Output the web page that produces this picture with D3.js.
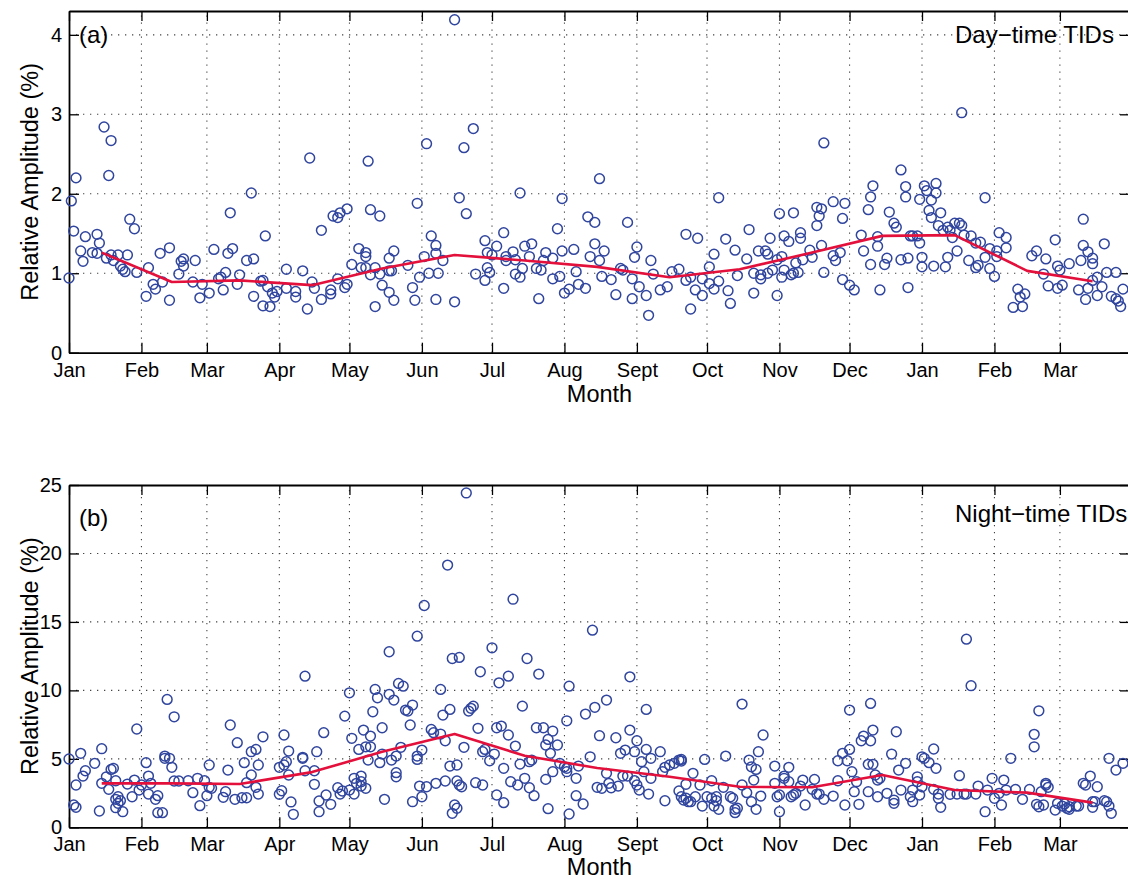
<!DOCTYPE html>
<html>
<head>
<meta charset="utf-8">
<script src="https://cdn.jsdelivr.net/npm/d3@7"></script>
<style>
  body { margin: 0; background: #fff; }
</style>
</head>
<body>
<div id="chart"></div>
<script>
// tick labels for the 15 months shown (Jan .. Mar of the following year)
var monthLabels = ["Jan", "Feb", "Mar", "Apr", "May", "Jun", "Jul", "Aug", "Sept", "Oct", "Nov", "Dec", "Jan", "Feb", "Mar"];

// [day since 1 Jan, relative amplitude %] -- day-time TIDs
var dayTime = [
  [0,0.94],[1,1.91],[2,1.53],[3,2.20],[5,1.28],[6,1.15],[7,1.46],[10,1.26],[12,1.49],[12,1.25],[13,1.38],[15,2.84],[16,1.19],[17,2.23],[18,2.67],[18,1.23],[19,1.16],[21,1.23],[22,1.09],[23,1.05],[24,1.02],[25,1.23],[26,1.68],[28,1.56],[29,1.01],
  [33,0.71],[34,1.07],[36,0.86],[37,0.80],[39,1.25],[40,0.89],[43,1.32],[43,0.66],[47,0.99],[48,1.15],[49,1.18],[49,1.09],[53,0.89],[54,1.16],[56,0.69],[57,0.86],
  [60,0.75],[62,1.30],[64,0.93],[65,0.95],[66,0.79],[67,1.01],[68,1.25],[69,1.76],[70,1.31],[72,0.86],[73,0.98],[76,1.16],[78,2.01],[79,0.71],[79,1.18],[82,0.90],[83,0.91],[83,0.59],[84,1.47],[85,0.83],[86,0.58],[87,0.75],[88,0.70],[89,0.77],
  [93,1.05],[93,0.81],[97,0.77],[97,0.70],[100,1.03],[102,0.55],[103,2.45],[104,0.89],[105,0.81],[108,1.54],[108,0.67],[112,0.79],[112,0.74],[113,1.72],[115,1.70],[115,0.93],[116,1.76],[118,0.82],[119,0.86],[119,1.81],
  [121,1.11],[124,1.31],[125,1.07],[127,1.26],[127,1.21],[127,1.07],[128,2.41],[129,0.98],[129,1.80],[131,0.58],[131,1.07],[133,1.72],[133,0.99],[134,0.85],[137,1.03],[137,1.19],[137,0.76],[138,1.03],[139,0.66],[139,1.28],
  [145,1.10],[147,0.82],[148,0.66],[149,1.88],[150,0.95],[152,1.21],[153,2.63],[154,1.00],[155,1.47],[157,1.35],[157,1.25],[157,0.67],[158,1.00],[160,1.16],[165,4.19],[165,0.64],[167,1.95],[169,2.58],[170,1.75],[173,2.82],[174,0.99],[178,0.91],[178,1.41],[179,1.07],[179,1.26],[180,1.01],
  [181,1.23],[183,1.34],[186,1.51],[186,0.81],[187,1.16],[187,1.21],[190,1.27],[191,1.17],[191,0.99],[193,2.01],[193,0.95],[194,1.06],[195,1.34],[197,1.21],[198,1.37],[200,1.06],[201,0.68],[202,1.04],[203,1.16],[204,1.26],[207,1.19],[207,0.93],[209,1.56],[210,0.96],[211,1.94],[211,1.28],
  [212,0.75],[214,0.80],[216,1.30],[217,1.02],[218,0.86],[221,0.81],[222,1.71],[223,1.21],[225,1.64],[225,1.37],[227,2.19],[227,1.16],[228,0.96],[229,1.28],[232,0.92],[234,0.73],[236,1.06],[237,1.04],[239,1.64],
  [241,0.93],[241,0.68],[242,1.20],[243,1.33],[244,0.83],[247,0.72],[248,0.47],[249,1.16],[250,0.99],[253,0.79],[256,0.83],[258,1.02],[261,1.05],[264,1.49],[264,0.91],[266,0.95],[266,0.55],[268,0.79],[269,1.44],[271,0.72],[271,0.93],
  [274,1.08],[274,0.87],[276,1.24],[276,0.80],[278,1.95],[278,0.90],[281,1.43],[282,0.78],[283,0.62],[285,1.29],[286,0.97],[290,1.18],[291,1.55],[293,1.00],[293,0.75],[295,1.28],[296,0.93],[296,0.98],[298,1.28],[299,1.24],[299,1.00],[300,1.44],[301,1.04],[303,0.72],[303,1.17],
  [304,1.75],[306,1.47],[305,0.95],[306,1.04],[305,1.21],[308,1.40],[309,0.98],[310,1.76],[310,1.00],[311,1.13],[312,1.01],[313,1.51],[313,1.44],[314,1.17],[317,1.29],[318,1.20],[320,1.83],[320,1.60],[321,1.72],[322,1.81],[322,1.35],[323,1.01],[323,2.64],
  [327,1.90],[327,1.22],[328,1.16],[330,1.26],[331,0.92],[331,1.69],[332,1.88],[334,0.85],[336,0.79],
  [339,1.48],[340,1.28],[342,1.80],[343,1.11],[343,1.96],[344,2.10],[346,1.34],[346,1.46],[347,0.79],[349,1.11],[350,1.19],[351,1.77],[353,1.63],[354,1.58],[356,1.17],[356,2.30],[358,2.09],[358,1.96],[359,1.19],[359,0.82],[360,1.47],[361,1.47],[363,1.47],[364,1.38],[364,1.93],
  [365,1.20],[365,1.08],[366,2.10],[367,2.04],[368,1.79],[369,1.92],[369,1.70],[370,1.09],[371,2.01],[371,2.13],[372,1.60],[373,1.76],[374,1.54],[375,1.08],[376,1.58],[376,1.20],[377,1.54],[378,1.45],[379,1.63],[380,1.28],[381,1.63],[382,1.60],[382,3.02],[383,1.48],[385,1.16],[386,1.47],[388,1.38],[388,1.07],[389,1.10],[390,1.39],[392,1.20],[392,1.95],[394,1.06],[394,1.31],
  [396,0.96],[397,1.21],[397,1.28],[398,1.51],[401,1.45],[401,1.32],[404,0.57],[406,0.80],[407,0.70],[408,0.58],[409,0.74],[412,1.22],[414,1.28],[417,0.99],[418,1.18],[419,0.84],[422,1.42],[423,1.09],[423,0.81],
  [424,1.04],[425,0.85],[428,1.12],[432,0.79],[433,1.16],[434,1.68],[434,1.35],[435,0.67],[436,1.27],[436,0.81],[438,1.19],[438,1.12],[438,0.91],[440,0.95],[440,0.72],[442,0.83],[443,1.37],[444,1.01],[446,0.71],[448,1.01],[448,0.68],[449,0.65],[450,0.58],[451,0.80]
];

// [day since 1 Jan, relative amplitude %] -- night-time TIDs
var nightTime = [
  [0,4.99],[2,1.63],[3,1.46],[3,3.09],[5,5.40],[6,3.74],[7,4.13],[11,4.67],[13,1.19],[14,5.74],[14,3.21],[16,3.69],[17,2.77],[18,4.23],[19,4.31],[20,3.40],[20,2.04],[20,1.43],[21,2.23],[21,1.75],[22,1.94],[23,1.14],[25,3.16],[27,2.23],[28,3.45],[29,7.18],[30,2.72],
  [31,3.09],[33,4.72],[34,3.74],[34,2.43],[35,3.21],[37,2.04],[38,2.31],[38,1.07],[40,1.07],[41,5.20],[41,5.04],[42,9.34],[43,5.04],[44,4.38],[45,8.07],[45,3.38],[47,3.38],[51,3.40],[53,2.53],[55,3.58],[56,1.58],[58,3.40],
  [59,2.31],[60,2.92],[60,4.55],[61,2.85],[66,2.19],[67,2.60],[68,4.18],[69,7.47],[71,2.04],[72,6.18],[74,2.16],[75,4.72],[76,2.16],[76,3.26],[78,3.82],[78,5.52],[80,5.69],[80,2.92],[81,4.55],[81,2.43],[83,6.61],
  [90,2.41],[91,2.67],[90,4.38],[92,4.55],[93,4.79],[92,6.74],[94,5.57],[94,3.82],[95,1.85],[96,0.95],[100,5.11],[100,5.04],[101,11.04],[101,4.13],[105,3.14],[105,4.13],[106,5.52],[107,1.92],[107,1.14],[109,6.91],[110,2.36],[112,1.68],[115,2.89],[116,2.43],[117,2.65],[118,8.12],
  [120,9.82],[120,2.72],[121,6.50],[122,3.58],[122,2.43],[123,3.21],[124,5.69],[125,3.33],[125,3.01],[125,3.74],[126,7.10],[127,2.85],[127,5.88],[129,6.66],[129,5.88],[128,4.91],[130,8.44],[131,10.07],[132,9.46],[133,4.72],[134,7.27],[135,2.04],[134,5.35],[137,12.82],[137,9.71],[138,4.91],[139,9.29],[140,5.20],[140,3.99],[140,3.69],
  [141,10.51],[142,5.84],[143,10.31],[144,8.56],[145,8.49],[146,7.47],[147,8.93],[147,1.87],[149,13.96],[149,5.20],[149,4.96],[150,3.01],[151,5.64],[151,2.23],[152,16.20],[153,2.96],[155,7.15],[156,6.91],[157,3.21],[159,10.07],[159,6.81],[160,8.20],[161,6.32],[161,3.38],[162,19.15],[163,8.61],[163,4.47],[164,12.33],[164,1.02],[165,1.63],[166,1.39],[166,4.55],[166,3.38],[167,12.41],[167,3.09],[168,2.96],[169,5.84],[170,24.42],
  [171,8.49],[172,8.69],[173,8.85],[174,3.26],[175,7.23],[176,11.36],[177,3.09],[177,5.52],[178,5.69],[180,4.86],[181,13.11],[182,5.35],[183,7.27],[183,2.36],[184,10.55],[185,7.39],[186,4.31],[186,1.80],[188,6.74],[188,11.04],[189,3.33],[190,16.66],[191,5.93],[192,3.09],[193,4.62],[194,8.85],[195,3.58],[196,12.33],[197,2.89],[197,4.79],[198,4.91],[199,2.31],[200,7.27],
  [201,11.19],[203,7.27],[204,3.50],[204,6.01],[205,6.42],[205,1.36],[206,5.40],[207,7.03],[207,4.06],[209,6.01],[210,4.67],[212,4.42],[213,4.06],[213,7.78],[214,0.97],[214,10.31],[213,4.31],[217,3.58],[217,2.31],[218,4.47],[220,1.70],[221,8.27],[223,5.15],[224,14.40],[225,8.76],[226,2.92],[227,6.69],[228,2.85],[230,3.94],[230,9.29],
  [231,3.21],[232,2.89],[234,6.54],[235,3.01],[236,5.40],[237,3.74],[238,5.64],[239,3.74],[240,7.10],[240,10.99],[242,3.40],[242,5.52],[243,6.32],[243,3.09],[244,2.72],[245,4.79],[246,4.06],[247,8.61],[247,5.69],[248,2.43],[249,3.58],[249,5.04],[253,5.52],[254,4.06],[255,1.94],[255,4.38],[257,4.55],[259,4.67],
  [261,4.91],[262,4.96],[262,4.84],[261,2.65],[262,2.23],[263,1.99],[264,3.14],[264,2.12],[265,1.87],[266,1.87],[267,3.94],[268,2.23],[270,3.09],[271,1.55],[272,4.96],[273,2.23],[275,3.40],[275,2.12],[276,1.55],[277,1.94],[277,2.23],[278,1.31],[280,2.92],[281,5.20],[283,2.23],[284,2.12],[285,1.07],[285,1.31],[286,1.39],[288,9.00],[288,3.09],[290,2.53],
  [291,4.91],[292,4.42],[292,1.87],[293,3.45],[294,1.31],[294,4.23],[295,5.52],[296,2.28],[297,6.74],[302,4.47],[302,3.21],[303,2.23],[304,1.14],[304,2.36],[306,3.58],[306,3.74],[308,4.38],[308,3.33],[309,2.23],[310,2.36],[311,2.48],[313,3.01],[314,3.45],[315,1.63],[318,2.77],[319,3.50],[320,2.43],
  [321,2.43],[323,2.04],[327,2.28],[329,4.86],[329,3.40],[331,5.40],[332,1.63],[333,4.86],[334,8.56],[334,5.69],[335,4.06],[336,2.60],[337,3.33],[338,1.68],[339,6.32],[340,6.66],[342,4.60],[342,2.60],[343,9.05],[343,6.32],[344,7.10],[344,4.60],[345,3.82],[346,3.45],[346,2.23],[347,3.58],[350,2.48],
  [352,5.35],[353,1.99],[353,1.75],[354,6.98],[355,4.18],[356,2.72],[358,4.67],[360,2.23],[361,1.87],[361,2.72],[363,3.69],[363,3.33],[364,2.36],[365,2.96],[365,5.15],[366,5.04],[368,4.72],[370,5.72],[371,4.31],[370,2.77],[372,2.43],[372,2.12],[373,1.46],[377,2.41],[380,2.43],
  [381,3.77],[383,2.43],[384,2.43],[384,13.74],[386,10.34],[388,2.43],[389,3.01],[392,1.14],[393,2.72],[395,3.58],[396,2.12],[398,2.48],[399,1.63],[400,3.45],[401,2.72],[403,5.04],[405,2.77],[408,2.04],[411,2.77],
  [413,6.79],[413,5.88],[415,8.51],[414,1.68],[415,1.50],[416,2.60],[417,1.63],[418,3.21],[418,3.09],[419,2.92],[422,1.26],[423,1.75],[425,1.55],[426,1.70],[427,1.39],[428,1.31],[428,1.50],[431,1.55],[432,1.55],[434,3.21],[435,3.09],[437,3.74],[438,1.46],[438,1.87],[439,1.87],[440,2.96],[443,1.94],[444,1.87],[445,5.04],[445,1.55],[446,1.02],[448,4.18],[451,4.67]
];

// monthly means, plotted at mid-month (day since 1 Jan)
var meanDays = [14, 44, 73, 104, 134, 165, 195, 226, 257, 287, 318, 348, 379, 410, 438];
var dayMean = [1.26, 0.89, 0.91, 0.85, 1.06, 1.23, 1.16, 1.08, 0.95, 1.05, 1.26, 1.47, 1.48, 1.03, 0.90];
var nightMean = [3.21, 3.21, 3.16, 4.03, 5.51, 6.81, 5.23, 4.33, 3.69, 2.96, 2.92, 3.82, 2.72, 2.53, 1.80];

var svgWidth = 1128;
var svgHeight = 879;
var fontFamily = "'Liberation Sans', Arial, Helvetica, sans-serif";
var plotLeft = 69;
var plotRight = 1130;   // right edge of the box sits just outside the picture

var svg = d3.select("#chart")
  .append("svg")
  .attr("width", svgWidth)
  .attr("height", svgHeight)
  .attr("font-family", fontFamily);

var startDate = new Date(Date.UTC(2009, 0, 1));
var endDate = d3.utcDay.offset(startDate, 454);
var toDate = function (day) { return d3.utcDay.offset(startDate, day); };

var xScale = d3.scaleUtc()
  .domain([startDate, endDate])
  .range([plotLeft, plotRight]);

var monthTicks = d3.utcMonth.range(startDate, endDate);

var panels = [
  { data: dayTime, mean: dayMean, top: 11, bottom: 352.7, yMax: 4.3, yTicks: [0, 1, 2, 3, 4],
    tag: "(a)", tagY: 43, title: "Day\u2212time TIDs", titleY: 43, monthY: 402 },
  { data: nightTime, mean: nightMean, top: 485, bottom: 827.3, yMax: 25, yTicks: [0, 5, 10, 15, 20, 25],
    tag: "(b)", tagY: 526, title: "Night\u2212time TIDs", titleY: 522, monthY: 875 }
];

function styleAxis(g) {
  g.attr("font-family", fontFamily).attr("font-size", 20);
  g.select(".domain").attr("stroke", "#000").attr("stroke-width", 1.8);
  g.selectAll(".tick line").attr("stroke", "#000").attr("stroke-width", 1.3);
  g.selectAll(".tick text").attr("fill", "#000");
}

panels.forEach(function (p) {
  var yScale = d3.scaleLinear().domain([0, p.yMax]).range([p.bottom, p.top]);
  var g = svg.append("g");

  // dotted grid
  var grid = g.append("g")
    .attr("stroke", "#444")
    .attr("stroke-width", 1.1)
    .attr("stroke-dasharray", "1.3,5.7");

  grid.selectAll(".vgrid")
    .data(monthTicks.slice(1))
    .enter()
    .append("line")
    .attr("x1", d => xScale(d))
    .attr("x2", d => xScale(d))
    .attr("y1", p.bottom)
    .attr("y2", p.top);

  grid.selectAll(".hgrid")
    .data(p.yTicks.filter(v => v > 0 && v < p.yMax))
    .enter()
    .append("line")
    .attr("x1", plotLeft)
    .attr("x2", plotRight)
    .attr("y1", d => yScale(d))
    .attr("y2", d => yScale(d));

  // axes, ticks pointing inwards on all four sides
  g.append("g")
    .attr("transform", `translate(0, ${p.bottom})`)
    .call(d3.axisBottom(xScale).tickValues(monthTicks).tickSize(-10).tickSizeOuter(0).tickPadding(10)
      .tickFormat((d, i) => monthLabels[i]))
    .call(styleAxis);

  g.append("g")
    .attr("transform", `translate(0, ${p.top})`)
    .call(d3.axisTop(xScale).tickValues(monthTicks).tickSize(-10).tickSizeOuter(0).tickFormat(""))
    .call(styleAxis);

  g.append("g")
    .attr("transform", `translate(${plotLeft}, 0)`)
    .call(d3.axisLeft(yScale).tickValues(p.yTicks).tickSize(-10).tickSizeOuter(0).tickPadding(7)
      .tickFormat(d3.format("d")))
    .call(styleAxis);

  g.append("g")
    .attr("transform", `translate(${plotRight}, 0)`)
    .call(d3.axisRight(yScale).tickValues(p.yTicks).tickSize(-10).tickSizeOuter(0).tickFormat(""))
    .call(styleAxis);

  // scatter of individual events
  g.append("g")
    .selectAll("circle")
    .data(p.data)
    .enter()
    .append("circle")
    .attr("cx", d => xScale(toDate(d[0])))
    .attr("cy", d => yScale(d[1]))
    .attr("r", 4.9)
    .attr("fill", "none")
    .attr("stroke", "#30459e")
    .attr("stroke-width", 1.5);

  // monthly mean
  var meanLine = d3.line()
    .x(d => xScale(toDate(d[0])))
    .y(d => yScale(d[1]));

  g.append("path")
    .datum(meanDays.map((day, i) => [day, p.mean[i]]))
    .attr("d", meanLine)
    .attr("fill", "none")
    .attr("stroke", "#e3103c")
    .attr("stroke-width", 2.6)
    .attr("stroke-linejoin", "round");

  // labels
  g.append("text")
    .attr("x", 79)
    .attr("y", p.tagY)
    .attr("font-size", 24)
    .text(p.tag);

  g.append("text")
    .attr("x", 955)
    .attr("y", p.titleY)
    .attr("font-size", 24)
    .text(p.title);

  g.append("text")
    .attr("transform", "rotate(-90)")
    .attr("x", -(p.top + p.bottom) / 2)
    .attr("y", 38)
    .attr("text-anchor", "middle")
    .attr("font-size", 23.5)
    .text("Relative Amplitude (%)");

  g.append("text")
    .attr("x", (plotLeft + plotRight) / 2)
    .attr("y", p.monthY)
    .attr("text-anchor", "middle")
    .attr("font-size", 23.5)
    .text("Month");
});
</script>
</body>
</html>
